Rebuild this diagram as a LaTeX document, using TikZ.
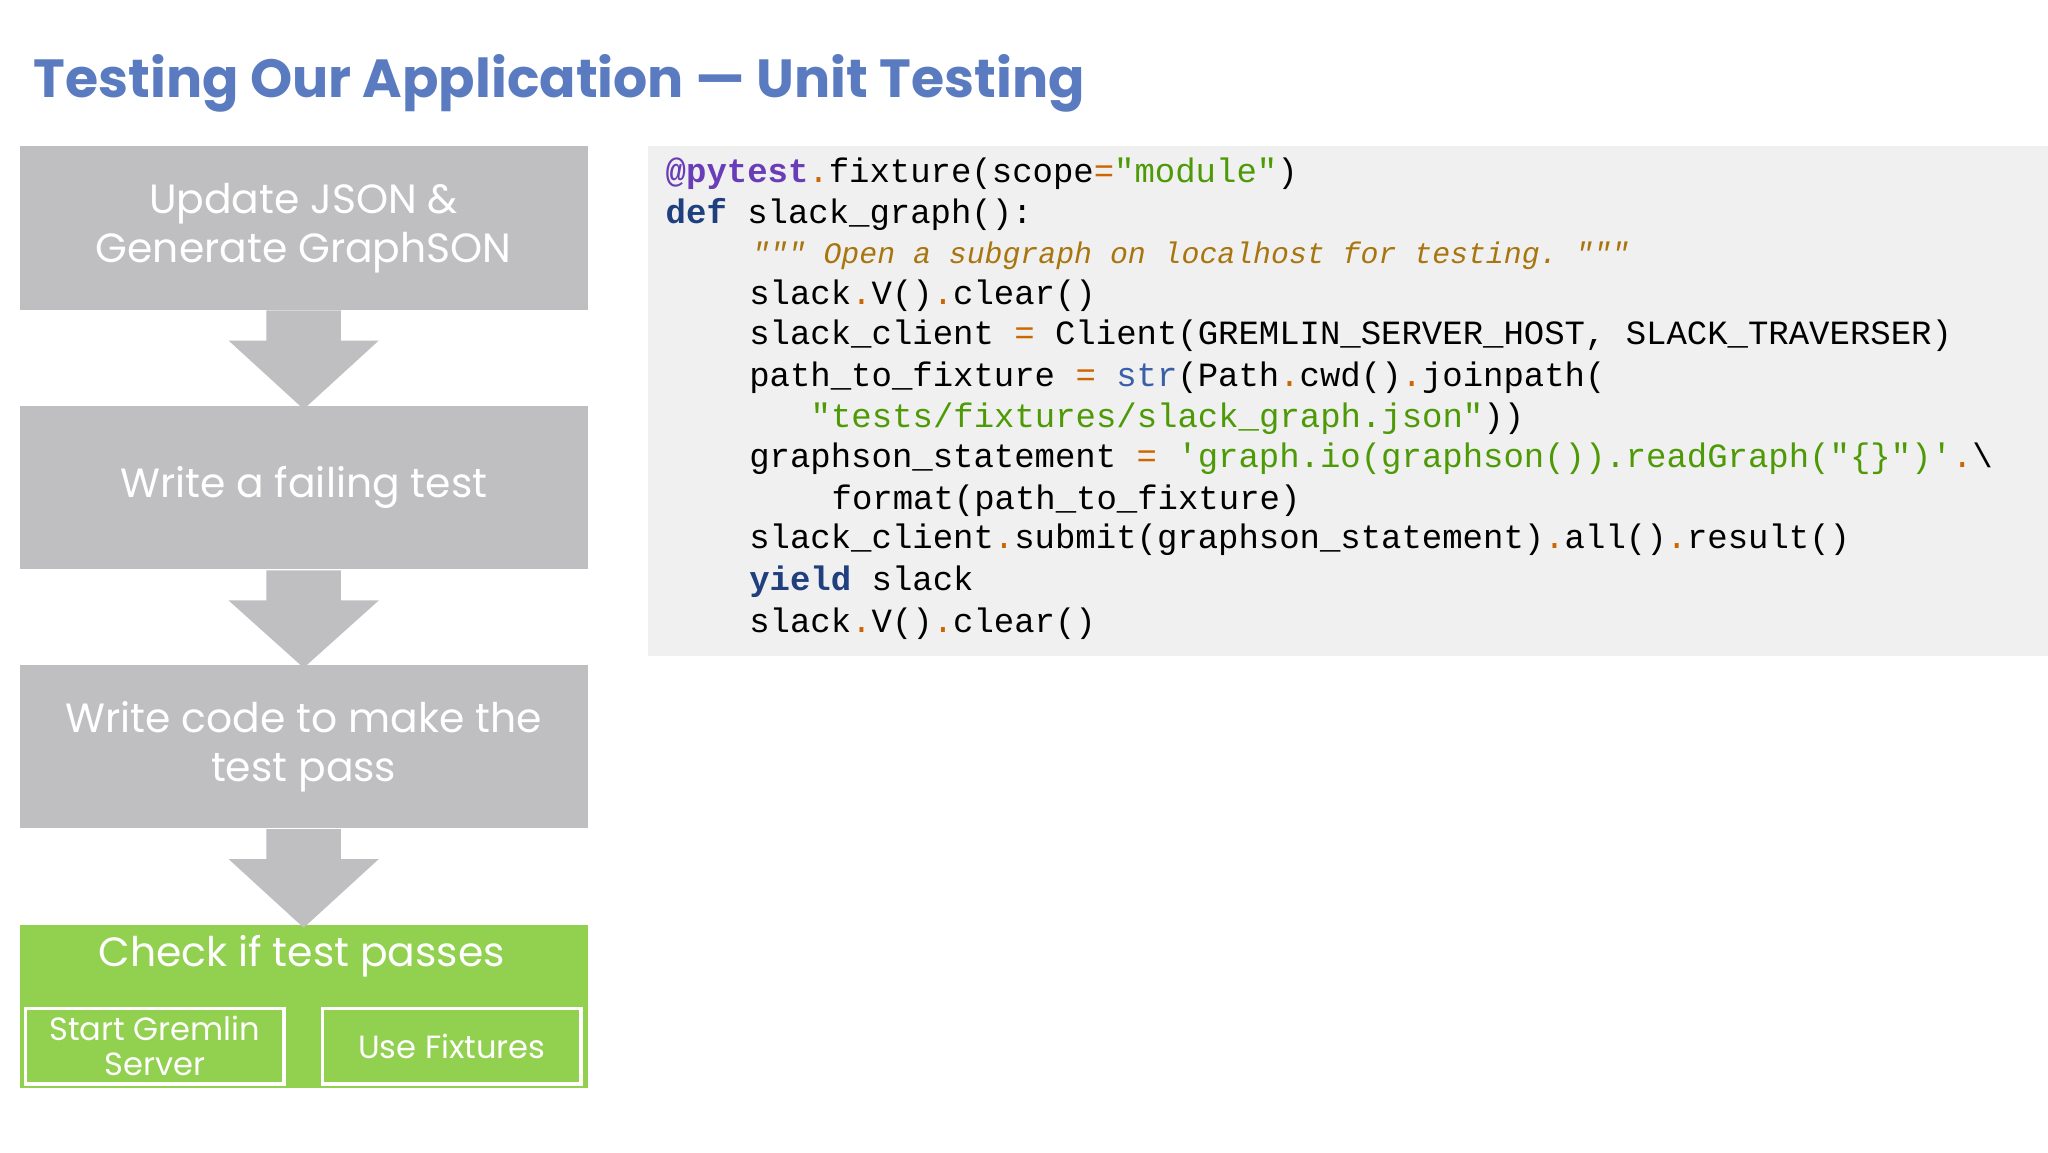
\documentclass[tikz,border=0pt]{standalone}
\usepackage{fontspec}
\setmainfont{Poppins}
\setmonofont{Liberation Mono}
\usetikzlibrary{positioning}

\definecolor{titleblue}{HTML}{5B7BC0}
\definecolor{stepgray}{HTML}{BFBEC0}
\definecolor{stepgreen}{HTML}{92D050}
\definecolor{codebg}{HTML}{F0F0F0}
\definecolor{decoc}{HTML}{6A3DB8}
\definecolor{kwc}{HTML}{1F3F7F}
\definecolor{strc}{HTML}{4E9A06}
\definecolor{opc}{HTML}{CC6600}
\definecolor{cmtc}{HTML}{A8750F}
\definecolor{bic}{HTML}{3A5FA8}

\newcommand\op[1]{\textcolor{opc}{#1}}
\newcommand\st[1]{\textcolor{strc}{#1}}
\newcommand\kw[1]{\textcolor{kwc}{\bfseries #1}}

\tikzset{
  stepbox/.style={fill=stepgray, draw=none, minimum width=4.35cm, minimum height=1.25cm,
    text=white, align=center, font=\fontsize{8.9}{10.6}\selectfont, inner sep=0pt},
  subbox/.style={draw=white, line width=0.8pt, minimum width=1.98cm, minimum height=0.58cm,
    text=white, align=center, font=\fontsize{7}{7.6}\selectfont, inner sep=0pt},
  downarrow/.style={fill=stepgray, draw=none},
  codeline/.style={anchor=base west, inner sep=0pt, font=\ttfamily\fontsize{7.4}{8}\selectfont}
}

\begin{document}
\begin{tikzpicture}
\useasboundingbox (0,0) rectangle (15.68,-8.82);

\node[anchor=base west, inner sep=0pt, text=titleblue, font=\bfseries\fontsize{11.7}{13}\selectfont]
  (title) at (0.25,-0.75) {Testing Our Application — Unit Testing};

% steps
\node[stepbox] (update) at (2.325,-1.745) {Update JSON \&\\Generate GraphSON};
\node[stepbox] (fail)   at (2.325,-3.735) {Write a failing test};
\node[stepbox] (code)   at (2.325,-5.715) {Write code to make the\\test pass};
\node[stepbox, fill=stepgreen] (check) at (2.325,-7.705) {};
\node[anchor=base, inner sep=0pt, text=white, font=\fontsize{8.9}{10}\selectfont]
  (checktext) at (2.31,-7.4) {Check if test passes};
\node[subbox] (gremlin)  at (1.185,-8.01) {Start Gremlin\\Server};
\node[subbox] (fixtures) at (3.46,-8.01) {Use Fixtures};

% arrows
\foreach \a/\b in {update/fail, fail/code, code/check}
  \fill[downarrow] ([xshift=-0.285cm]\a.south) -- ++(0,-0.23) -- ++(-0.29,0)
    -- ([yshift=-0.03cm]\b.north) -- ([xshift=0.575cm,yshift=-0.23cm]\a.south)
    -- ++(-0.29,0) -- ++(0,0.23) -- cycle;

% code
\fill[codebg] (4.96,-1.12) rectangle (15.68,-5.02);
\node[codeline] (l1) at (5.09,-1.40) {\textcolor{decoc}{\bfseries @pytest}\op{.}fixture(scope\op{=}\st{"module"})};
\node[codeline] (l2) at (5.09,-1.71) {\kw{def} slack\_graph():};
\node[codeline, text=cmtc, font=\ttfamily\itshape\fontsize{6.5}{8}\selectfont] (l3) at (5.75,-2.02)
  {""" Open a subgraph on localhost for testing. """};
\node[codeline] (l4) at (5.73,-2.33) {slack\op{.}V()\op{.}clear()};
\node[codeline] (l5) at (5.73,-2.64) {slack\_client \op{=} Client(GREMLIN\_SERVER\_HOST, SLACK\_TRAVERSER)};
\node[codeline] (l6) at (5.73,-2.96) {path\_to\_fixture \op{=} \textcolor{bic}{str}(Path\op{.}cwd()\op{.}joinpath(};
\node[codeline] (l7) at (6.20,-3.27) {\st{"tests/fixtures/slack\_graph.json"}))};
\node[codeline] (l8) at (5.73,-3.58) {graphson\_statement \op{=} \st{'graph.io(graphson()).readGraph("\{\}")'}\op{.}\textbackslash};
\node[codeline] (l9) at (6.36,-3.90) {format(path\_to\_fixture)};
\node[codeline] (l10) at (5.73,-4.20) {slack\_client\op{.}submit(graphson\_statement)\op{.}all()\op{.}result()};
\node[codeline] (l11) at (5.73,-4.52) {\kw{yield} slack};
\node[codeline] (l12) at (5.73,-4.84) {slack\op{.}V()\op{.}clear()};
\end{tikzpicture}
\end{document}
